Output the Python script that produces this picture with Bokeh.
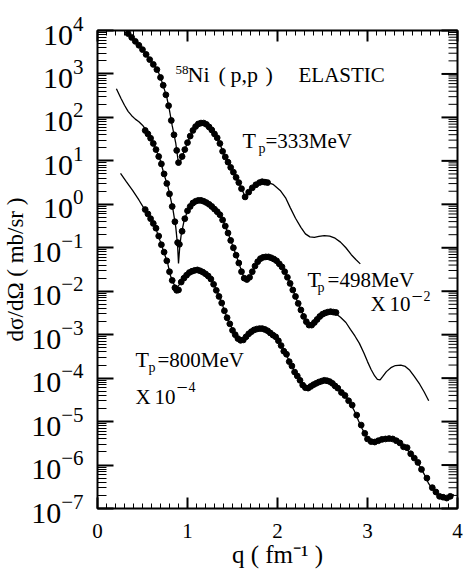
import numpy as np
from bokeh.plotting import figure
from bokeh.models import Label, FixedTicker, Range1d
from bokeh.embed import file_html
from bokeh.resources import INLINE

# ---------------- data (q in fm^-1, cross sections as log10 of mb/sr) ----------------
# Tp = 333 MeV (unscaled)
q_th_333 = [0.30, 0.40, 0.50, 0.60, 0.67, 0.72, 0.77, 0.80, 0.83, 0.87, 0.90, 0.92, 0.95, 1.00,
            1.06, 1.12, 1.18, 1.23, 1.30, 1.35, 1.40, 1.48, 1.56, 1.64, 1.69, 1.73, 1.79, 1.85,
            1.90, 1.95, 2.03, 2.09, 2.14, 2.20, 2.26, 2.31, 2.36, 2.41, 2.46, 2.52, 2.58, 2.64,
            2.70, 2.76, 2.82, 2.87, 2.92]
log_th_333 = [4.05, 3.80, 3.57, 3.28, 3.08, 2.80, 2.46, 2.16, 1.81, 1.40, 0.94, 0.98, 1.15, 1.42,
              1.70, 1.86, 1.87, 1.81, 1.62, 1.45, 1.17, 0.85, 0.55, 0.18, 0.30, 0.40, 0.48, 0.51,
              0.50, 0.46, 0.32, 0.15, -0.07, -0.32, -0.53, -0.68, -0.75, -0.76, -0.74, -0.72, -0.73, -0.78,
              -0.87, -1.00, -1.16, -1.27, -1.37]
q_dat_333 = [0.34, 0.38, 0.42, 0.46, 0.50, 0.54, 0.58, 0.62, 0.66, 0.70, 0.73, 0.76, 0.79, 0.82,
             0.85, 0.88, 0.90, 0.94, 0.97, 1.00, 1.03, 1.06, 1.09, 1.12, 1.15, 1.18, 1.21, 1.24,
             1.27, 1.30, 1.33, 1.36, 1.39, 1.42, 1.45, 1.48, 1.51, 1.54, 1.57, 1.60, 1.64, 1.68,
             1.72, 1.76, 1.80, 1.83, 1.86, 1.89]
log_dat_333 = [3.93, 3.84, 3.75, 3.66, 3.56, 3.45, 3.33, 3.22, 3.10, 2.92, 2.74, 2.52, 2.27, 1.93,
               1.60, 1.24, 0.96, 1.10, 1.26, 1.42, 1.57, 1.70, 1.79, 1.85, 1.87, 1.87, 1.84, 1.78,
               1.71, 1.62, 1.53, 1.40, 1.22, 1.09, 0.97, 0.85, 0.74, 0.62, 0.50, 0.36, 0.17, 0.28,
               0.38, 0.45, 0.50, 0.52, 0.51, 0.50]

# Tp = 498 MeV (x 10^-2)
q_th_498 = [0.21, 0.26, 0.30, 0.34, 0.38, 0.42, 0.46, 0.50, 0.54, 0.58, 0.64, 0.70, 0.74, 0.78,
            0.81, 0.84, 0.87, 0.89, 0.90, 0.915, 0.93, 0.96, 1.00, 1.05, 1.12, 1.18, 1.23, 1.30,
            1.37, 1.43, 1.48, 1.52, 1.56, 1.61, 1.645, 1.70, 1.76, 1.84, 1.90, 1.96, 2.06, 2.14,
            2.23, 2.31, 2.37, 2.43, 2.48, 2.56, 2.63, 2.70, 2.76, 2.81, 2.86, 2.91, 2.96, 3.00,
            3.04, 3.08, 3.11, 3.14, 3.17, 3.21, 3.26, 3.31, 3.37, 3.42, 3.47, 3.52, 3.58, 3.63,
            3.68]
log_th_498 = [2.66, 2.44, 2.28, 2.14, 2.04, 1.96, 1.90, 1.82, 1.71, 1.57, 1.31, 1.00, 0.68, 0.43,
              0.16, -0.14, -0.53, -0.95, -1.36, -0.95, -0.70, -0.40, -0.15, 0.00, 0.09, 0.07, 0.02, -0.10,
              -0.26, -0.55, -0.83, -1.05, -1.29, -1.59, -1.75, -1.68, -1.38, -1.22, -1.21, -1.25, -1.45, -1.82,
              -2.28, -2.67, -2.79, -2.68, -2.56, -2.47, -2.49, -2.60, -2.72, -2.88, -3.03, -3.20, -3.42, -3.62,
              -3.80, -3.95, -4.03, -4.04, -3.96, -3.85, -3.76, -3.71, -3.70, -3.73, -3.82, -3.96, -4.14, -4.32,
              -4.52]
q_dat_498 = [0.53, 0.56, 0.59, 0.62, 0.65, 0.68, 0.71, 0.74, 0.77, 0.80, 0.83, 0.86, 0.89, 0.91,
             0.94, 0.97, 1.00, 1.03, 1.06, 1.09, 1.12, 1.15, 1.18, 1.21, 1.24, 1.27, 1.30, 1.33,
             1.36, 1.39, 1.42, 1.45, 1.48, 1.51, 1.54, 1.57, 1.60, 1.63, 1.66, 1.69, 1.72, 1.75,
             1.78, 1.81, 1.84, 1.87, 1.90, 1.93, 1.96, 1.99, 2.02, 2.05, 2.08, 2.11, 2.14, 2.17,
             2.20, 2.23, 2.26, 2.29, 2.32, 2.35, 2.38, 2.41, 2.44, 2.47, 2.50, 2.53, 2.56, 2.59,
             2.62, 2.65]
log_dat_498 = [1.70, 1.62, 1.52, 1.40, 1.26, 1.10, 0.93, 0.70, 0.48, 0.24, -0.05, -0.40, -0.88, -0.92,
               -0.62, -0.33, -0.15, -0.05, 0.03, 0.07, 0.09, 0.09, 0.07, 0.04, 0.00, -0.05, -0.11, -0.17,
               -0.24, -0.36, -0.50, -0.66, -0.83, -1.00, -1.17, -1.35, -1.55, -1.70, -1.73, -1.68, -1.55, -1.42,
               -1.32, -1.25, -1.22, -1.21, -1.21, -1.23, -1.26, -1.30, -1.37, -1.44, -1.55, -1.68, -1.82, -1.97,
               -2.12, -2.28, -2.43, -2.58, -2.70, -2.78, -2.78, -2.72, -2.65, -2.58, -2.53, -2.50, -2.48, -2.47,
               -2.48, -2.49]

# Tp = 800 MeV (x 10^-4)
q_th_800 = [0.256, 0.32, 0.39, 0.46, 0.53, 0.57, 0.61, 0.644, 0.68, 0.72, 0.78, 0.81, 0.84, 0.867,
            0.89, 0.92, 0.944, 0.98, 1.01, 1.06, 1.11, 1.17, 1.23, 1.26, 1.30, 1.37, 1.42, 1.46,
            1.53, 1.58, 1.61, 1.66, 1.70, 1.76, 1.81, 1.87, 1.92, 1.97, 2.03, 2.09, 2.14, 2.20,
            2.26, 2.30, 2.33, 2.37, 2.44, 2.50, 2.56, 2.62, 2.70, 2.76, 2.81, 2.86, 2.90, 2.94,
            2.98, 3.02, 3.06, 3.12, 3.19, 3.26, 3.32, 3.37, 3.43, 3.48, 3.54, 3.59, 3.64, 3.68,
            3.73, 3.78, 3.82, 3.87, 3.92, 3.96]
log_th_800 = [0.71, 0.52, 0.32, 0.10, -0.14, -0.26, -0.40, -0.53, -0.75, -0.99, -1.36, -1.64, -1.80, -1.91,
              -1.90, -1.82, -1.75, -1.65, -1.59, -1.54, -1.52, -1.56, -1.64, -1.71, -1.88, -2.21, -2.50, -2.70,
              -3.00, -3.12, -3.14, -3.03, -2.95, -2.88, -2.86, -2.89, -2.95, -3.05, -3.20, -3.42, -3.66, -3.88,
              -4.06, -4.20, -4.24, -4.20, -4.12, -4.06, -4.06, -4.13, -4.29, -4.42, -4.58, -4.78, -4.98, -5.16,
              -5.32, -5.44, -5.48, -5.44, -5.40, -5.39, -5.44, -5.51, -5.62, -5.74, -5.90, -6.06, -6.25, -6.43,
              -6.58, -6.70, -6.74, -6.75, -6.72, -6.68]
q_dat_800 = [0.53, 0.56, 0.59, 0.62, 0.65, 0.68, 0.71, 0.74, 0.77, 0.80, 0.83, 0.86, 0.88, 0.90,
             0.93, 0.96, 0.99, 1.02, 1.05, 1.08, 1.11, 1.14, 1.17, 1.20, 1.23, 1.26, 1.29, 1.32,
             1.35, 1.38, 1.41, 1.44, 1.47, 1.50, 1.53, 1.56, 1.59, 1.62, 1.65, 1.68, 1.71, 1.74,
             1.77, 1.80, 1.83, 1.86, 1.89, 1.92, 1.95, 1.98, 2.01, 2.04, 2.07, 2.10, 2.13, 2.16,
             2.19, 2.22, 2.25, 2.28, 2.31, 2.34, 2.37, 2.40, 2.43, 2.46, 2.49, 2.52, 2.55, 2.58,
             2.61, 2.64, 2.67, 2.71, 2.75, 2.79, 2.83, 2.88, 2.93, 2.97, 3.00, 3.04, 3.08, 3.12,
             3.16, 3.20, 3.24, 3.28, 3.32, 3.36, 3.40, 3.44, 3.48, 3.52, 3.56, 3.60, 3.66, 3.72,
             3.76, 3.80, 3.84, 3.88, 3.92]
log_dat_800 = [-0.12, -0.22, -0.33, -0.44, -0.55, -0.73, -0.93, -1.10, -1.30, -1.55, -1.75, -1.92, -1.98, -1.97,
               -1.79, -1.70, -1.63, -1.57, -1.54, -1.52, -1.51, -1.53, -1.56, -1.60, -1.65, -1.72, -1.84, -1.98,
               -2.12, -2.27, -2.45, -2.61, -2.75, -2.90, -3.00, -3.09, -3.13, -3.12, -3.05, -2.98, -2.93, -2.89,
               -2.87, -2.86, -2.86, -2.88, -2.91, -2.96, -3.01, -3.05, -3.14, -3.25, -3.38, -3.45, -3.62, -3.72,
               -3.86, -3.95, -4.05, -4.16, -4.22, -4.23, -4.19, -4.15, -4.12, -4.09, -4.07, -4.05, -4.06, -4.08,
               -4.12, -4.18, -4.23, -4.33, -4.40, -4.52, -4.62, -4.85, -5.08, -5.27, -5.40, -5.46, -5.47, -5.44,
               -5.41, -5.40, -5.39, -5.40, -5.44, -5.49, -5.58, -5.60, -5.74, -5.84, -5.94, -6.10, -6.30, -6.52,
               -6.62, -6.72, -6.74, -6.76, -6.72]

x_major_ticks = [0, 1, 2, 3, 4]
x_minor_ticks = [i / 10 for i in range(0, 41) if i % 10]
y_decades = list(range(-7, 5))
y_major_ticks = [10.0 ** k for k in y_decades]
y_minor_ticks = [m * 10.0 ** k for k in y_decades[:-1] for m in range(2, 10)]

FONT = "Liberation Serif"
X0, X1 = 0, 4
Y0, Y1 = 1e-7, 1e4


def to_xs(logs):
    return (10.0 ** np.asarray(logs, dtype=float)).tolist()


p = figure(width=464, height=575, x_range=Range1d(X0, X1), y_range=Range1d(Y0, Y1),
           y_axis_type="log", output_backend="svg", toolbar_location=None,
           min_border_left=97, min_border_right=7, min_border_top=30, min_border_bottom=67)
p.grid.visible = False
p.outline_line_color = "black"
p.outline_line_width = 2

xax = p.xaxis[0]
xax.ticker = FixedTicker(ticks=x_major_ticks, minor_ticks=x_minor_ticks)
xax.level = "overlay"
xax.major_tick_in = 11
xax.major_tick_out = 0
xax.minor_tick_in = 5
xax.minor_tick_out = 0
xax.major_tick_line_color = "black"
xax.minor_tick_line_color = "black"
xax.major_tick_line_width = 2
xax.minor_tick_line_width = 1
xax.major_label_text_font = FONT
xax.major_label_text_font_size = "21px"
xax.major_label_text_color = "black"
xax.major_label_standoff = 15
xax.axis_label = "q ( fm\u207b\u00b9 )"
xax.axis_label_text_font = FONT
xax.axis_label_text_font_size = "25px"
xax.axis_label_text_font_style = "normal"
xax.axis_label_text_color = "black"
xax.axis_label_standoff = 0

yax = p.yaxis[0]
yax.ticker = FixedTicker(ticks=y_major_ticks, minor_ticks=y_minor_ticks)
yax.level = "overlay"
yax.major_tick_in = 16
yax.major_tick_out = 0
yax.minor_tick_in = 9
yax.minor_tick_out = 0
yax.major_tick_line_color = "black"
yax.minor_tick_line_color = "black"
yax.major_tick_line_width = 2
yax.minor_tick_line_width = 1
yax.major_label_text_font = FONT
yax.major_label_text_font_size = "30px"
yax.major_label_text_color = "black"
yax.major_label_standoff = 14
yax.axis_label = "d\u03c3/d\u03a9 ( mb/sr )"
yax.axis_label_text_font = FONT
yax.axis_label_text_font_size = "23px"
yax.axis_label_text_font_style = "normal"
yax.axis_label_text_color = "black"
yax.axis_label_standoff = 0

# ---------------- curves and data ----------------
for qt, lt, qd, ld in [(q_th_333, log_th_333, q_dat_333, log_dat_333),
                       (q_th_498, log_th_498, q_dat_498, log_dat_498),
                       (q_th_800, log_th_800, q_dat_800, log_dat_800)]:
    p.line(qt, to_xs(lt), line_color="black", line_width=1.3)
    p.scatter(qd, to_xs(ld), size=5.8, marker="circle", fill_color="black", line_color="black")

# mirrored inward ticks on the top and right frame edges (rays of fixed pixel length),
# drawn last and on the overlay level
for xs, ys, length, ang, w in [
        (x_major_ticks, [Y1] * len(x_major_ticks), 11, -np.pi / 2, 2),
        (x_minor_ticks, [Y1] * len(x_minor_ticks), 5, -np.pi / 2, 1),
        ([X1] * len(y_major_ticks), y_major_ticks, 16, np.pi, 2),
        ([X1] * len(y_minor_ticks), y_minor_ticks, 9, np.pi, 1)]:
    r = p.ray(xs, ys, length=length, length_units="screen", angle=ang,
              line_color="black", line_width=w)
    r.level = "overlay"


# ---------------- annotations ----------------
def lab(x, y, text, size, dy):
    p.add_layout(Label(x=x, y=y, text=text, text_font=FONT, text_font_size=f"{size}px",
                       text_baseline="alphabetic", text_align="left", text_color="black",
                       y_offset=dy))


lab(0.867, 1.08e3, "58", 13, 3)
lab(1.0, 635, "Ni", 22, 8)
lab(1.344, 635, "(", 22, 8)
lab(1.478, 635, "p,p", 22, 8)
lab(1.867, 635, ")", 22, 8)
lab(2.233, 635, "ELASTIC", 21, 8)

lab(1.611, 19.2, "T", 22, 8)
lab(1.789, 14.8, "p", 14, 5)
lab(1.867, 19.2, "=333MeV", 21, 8)

lab(2.333, 0.01217, "T", 22, 8)
lab(2.444, 0.00933, "p", 14, 5)
lab(2.556, 0.01217, "=498MeV", 21, 8)
lab(3.033, 0.00324, "X", 21, 8)
lab(3.244, 0.00324, "10", 21, 8)
lab(3.489, 0.0061, "\u2212", 20, 5)
lab(3.622, 0.0061, "2", 14, 5)

lab(0.422, 1.75e-4, "T", 22, 8)
lab(0.567, 1.35e-4, "p", 14, 5)
lab(0.667, 1.75e-4, "=800MeV", 21, 8)
lab(0.422, 2.47e-5, "X", 21, 8)
lab(0.633, 2.47e-5, "10", 21, 8)
lab(0.878, 4.68e-5, "\u2212", 20, 5)
lab(1.011, 4.68e-5, "4", 14, 5)

open("out.html", "w").write(file_html(p, INLINE))
